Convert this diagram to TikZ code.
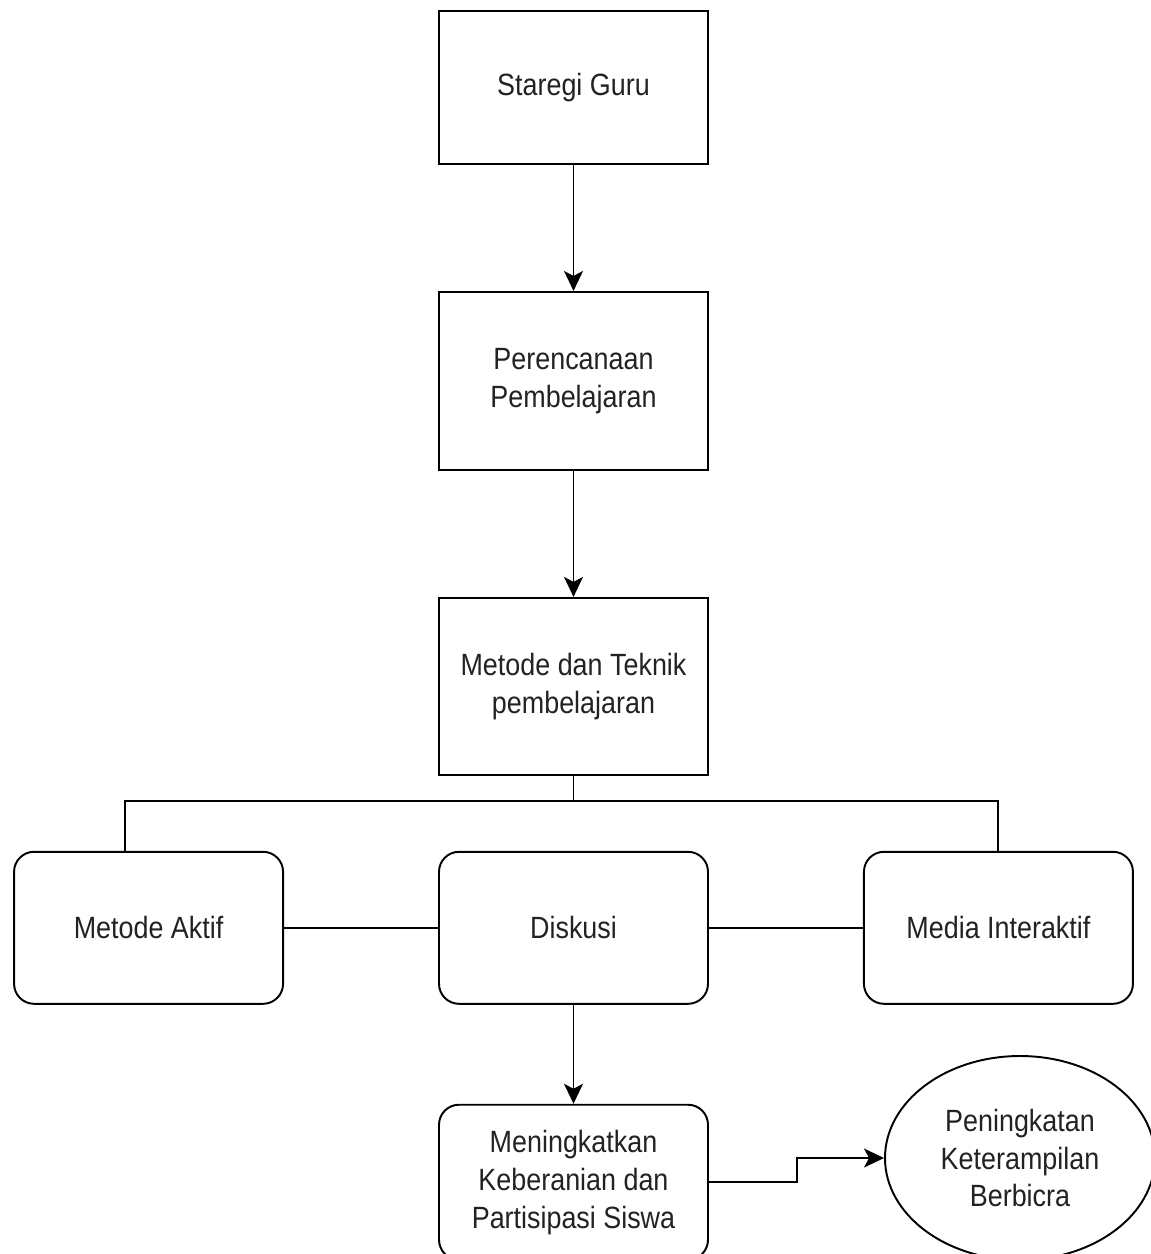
\documentclass[tikz,border=0pt]{standalone}
\usepackage{fontspec}
\setmainfont{Liberation Sans}[FakeStretch=0.875]
\usetikzlibrary{arrows.meta,positioning,shapes.geometric}
\definecolor{txtgray}{HTML}{222222}

\begin{document}
\begin{tikzpicture}[
      box/.style={draw,line width=1.1pt,minimum width=5.38cm,align=center,
        font=\fontsize{17.5}{21.6}\selectfont,text=txtgray,inner sep=2pt},
      rbox/.style={box,rounded corners=0.4cm},
      arr/.style={-{Stealth[length=4mm,width=3.8mm,inset=1mm]},line width=1.1pt},
      link/.style={line width=1.1pt}]
    \useasboundingbox (0,0) rectangle (23,-25.08);
    \node[box,minimum height=3.06cm] (guru) at (11.47,-1.75) {Staregi Guru};
    \node[box,minimum height=3.56cm,below=2.52cm of guru] (rencana)
      {Perencanaan\\Pembelajaran};
    \node[box,minimum height=3.54cm,below=2.52cm of rencana] (metode)
      {Metode dan Teknik\\pembelajaran};
    \node[rbox,minimum height=3.04cm,below=1.5cm of metode] (diskusi) {Diskusi};
    \node[rbox,minimum height=3.04cm,left=3.08cm of diskusi] (aktif) {Metode Aktif};
    \node[rbox,minimum height=3.04cm,right=3.08cm of diskusi] (media) {Media Interaktif};
    \node[rbox,minimum height=3.1cm,below=1.98cm of diskusi] (berani)
      {Meningkatkan\\Keberanian dan\\Partisipasi Siswa};
    \node[ellipse,draw,line width=1.1pt,minimum width=5.4cm,minimum height=4.08cm,
      inner sep=0pt,align=center,font=\fontsize{17.5}{21.6}\selectfont,text=txtgray]
      (bicara) at (20.4,-23.16) {Peningkatan\\Keterampilan\\Berbicra};
    \coordinate[below=0.5cm of metode] (cabang);
    \coordinate (kiri) at (2.5,0);
    \coordinate (belok) at (15.94,0);
    \draw[arr] (guru) -- (rencana);
    \draw[arr] (rencana) -- (metode);
    \draw[link] (metode) -- (cabang);
    \draw[link] (cabang) -| (aktif.north -| kiri);
    \draw[link] (cabang) -| (media.north);
    \draw[link] (aktif) -- (diskusi);
    \draw[link] (diskusi) -- (media);
    \draw[arr] (diskusi) -- (berani);
    \draw[arr] (berani.east) -- (berani.east -| belok) |- (bicara.west);
  \end{tikzpicture}
\end{document}
